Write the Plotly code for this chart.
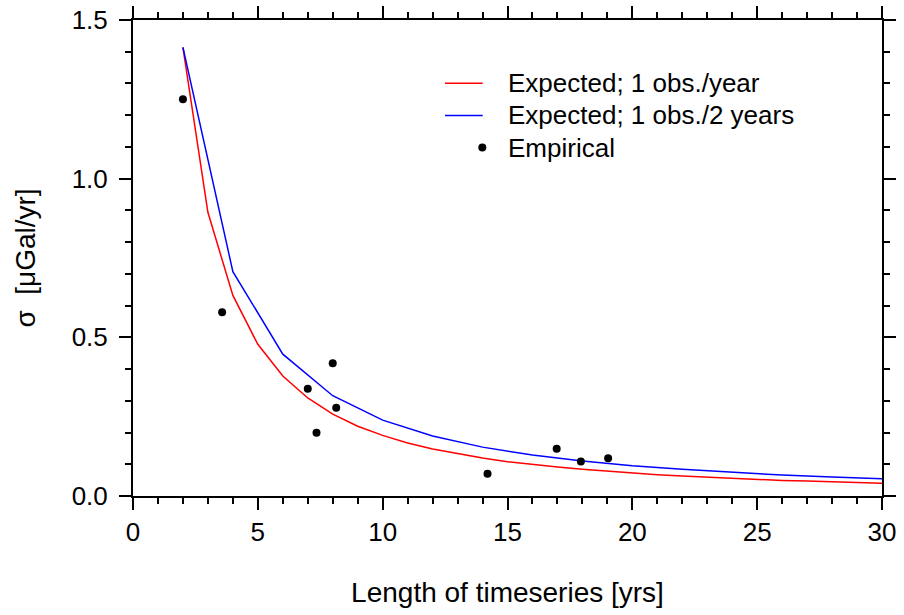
import plotly.graph_objects as go

# Expected sigma, one observation per year
red_x = list(range(2, 31))
red_y = [1.414, 0.894, 0.632, 0.478, 0.378, 0.309, 0.258, 0.220, 0.191, 0.167,
         0.148, 0.133, 0.120, 0.108, 0.099, 0.091, 0.084, 0.078, 0.072, 0.067,
         0.063, 0.059, 0.055, 0.052, 0.049, 0.047, 0.044, 0.042, 0.040]

# Expected sigma, one observation per two years
blue_x = list(range(2, 31, 2))
blue_y = [1.414, 0.707, 0.447, 0.316, 0.239, 0.189, 0.154, 0.129, 0.110, 0.095,
          0.084, 0.074, 0.066, 0.060, 0.054]

# Empirical values
emp_x = [2.0, 3.57, 8.0, 7.0, 8.14, 7.35, 14.2, 16.97, 17.94, 19.03]
emp_y = [1.25, 0.579, 0.418, 0.338, 0.278, 0.199, 0.070, 0.149, 0.109, 0.119]

legend_labels = ["Expected; 1 obs./year", "Expected; 1 obs./2 years", "Empirical"]

FONT = "Liberation Sans, Arial, Helvetica, sans-serif"
W, H = 904, 615
L, R, T, B = 133, 22, 20, 119
pw, ph = W - L - R, H - T - B


def px2paper(px, py):
    return (px - L) / pw, (H - B - py) / ph


fig = go.Figure()
fig.add_trace(go.Scatter(x=red_x, y=red_y, mode="lines",
                         line=dict(color="#ff0000", width=1.5), showlegend=False))
fig.add_trace(go.Scatter(x=blue_x, y=blue_y, mode="lines",
                         line=dict(color="#0000ff", width=1.5), showlegend=False))
fig.add_trace(go.Scatter(x=emp_x, y=emp_y, mode="markers",
                         marker=dict(color="black", size=8), showlegend=False))

# Manual legend (GMT style)
shapes = []
annotations = []
x0, yr = px2paper(445, 83.3)
x1, _ = px2paper(482.7, 83.3)
_, yb = px2paper(0, 115.5)
xd, yd = px2paper(482.3, 147.5)
xt, _ = px2paper(506, 0)
shapes.append(dict(type="line", xref="paper", yref="paper", x0=x0, x1=x1, y0=yr, y1=yr,
                   line=dict(color="#ff0000", width=1.5)))
shapes.append(dict(type="line", xref="paper", yref="paper", x0=x0, x1=x1, y0=yb, y1=yb,
                   line=dict(color="#0000ff", width=1.5)))
rx, ry = 4 / pw, 4 / ph
shapes.append(dict(type="circle", xref="paper", yref="paper", x0=xd - rx, x1=xd + rx,
                   y0=yd - ry, y1=yd + ry, fillcolor="black", line=dict(color="black", width=0)))
for lab, yy in zip(legend_labels, [yr, yb, yd]):
    annotations.append(dict(text=lab, xref="paper", yref="paper", x=xt, y=yy,
                            xanchor="left", yanchor="middle", showarrow=False,
                            font=dict(size=26, color="black", family=FONT)))

axis_common = dict(showline=True, linecolor="black", linewidth=2, mirror="allticks",
                   ticks="outside", ticklen=12, tickwidth=1.5, tickcolor="black",
                   showgrid=False, zeroline=False,
                   tickfont=dict(size=26, color="black", family=FONT))

fig.update_xaxes(range=[0, 30], tick0=0, dtick=5,
                 minor=dict(dtick=1, ticks="outside", ticklen=6, tickwidth=1.5, tickcolor="black",
                            showgrid=False),
                 title=dict(text="Length of timeseries [yrs]", standoff=36,
                            font=dict(size=28, color="black", family=FONT)),
                 ticklabelstandoff=0,
                 **axis_common)
fig.update_yaxes(range=[0, 1.5], tick0=0, dtick=0.5, tickformat=".1f",
                 minor=dict(dtick=0.1, ticks="outside", ticklen=6, tickwidth=1.5, tickcolor="black",
                            showgrid=False),
                 title=dict(text="σ\u00a0\u00a0[μGal/yr]", standoff=28,
                            font=dict(size=28, color="black", family=FONT)),
                 ticklabelstandoff=6,
                 **axis_common)

fig.update_layout(width=W, height=H, margin=dict(l=L, r=R, t=T, b=B, autoexpand=False),
                  plot_bgcolor="white", paper_bgcolor="white",
                  shapes=shapes, annotations=annotations,
                  font=dict(family=FONT, color="black"))

fig.write_html("out.html", config={"displayModeBar": False},
               post_script="document.body.style.margin='0';document.body.style.overflow='hidden';")
